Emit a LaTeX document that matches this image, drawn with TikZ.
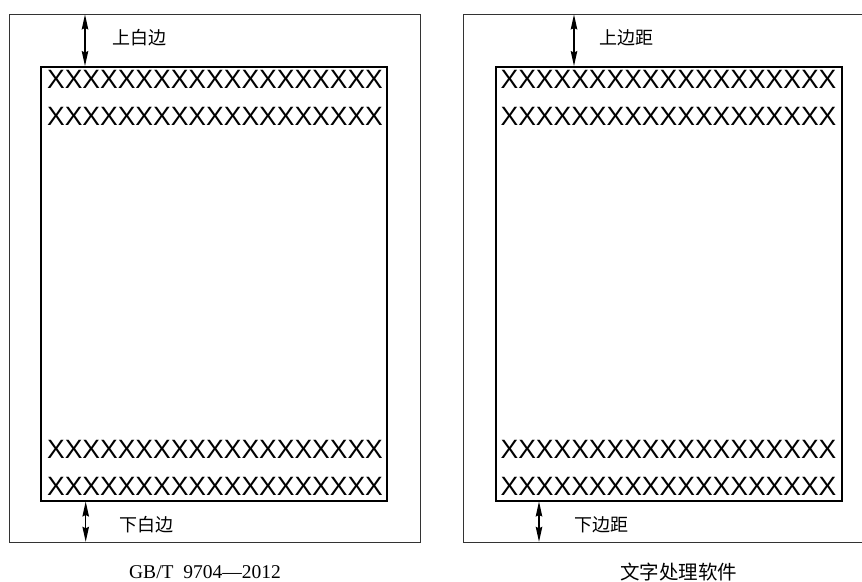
\documentclass[tikz,border=0pt]{standalone}
\usepackage{fontspec}
\setmainfont{Liberation Serif}
\newfontfamily\cjk{Noto Sans CJK SC}
\newfontfamily\xfont{Liberation Sans}
\usetikzlibrary{arrows.meta}
\tikzset{
  outerbox/.style={draw=black!80, line width=1pt},
  innerbox/.style={draw=black, line width=2pt},
  xrow/.style={inner sep=0pt, font=\xfont\fontsize{26.5}{27}\selectfont},
  lbl/.style={inner sep=0pt, font=\cjk\fontsize{18}{20}\selectfont},
  captext/.style={inner sep=0pt},
  dim/.style={line width=1.3pt, {Stealth[length=15pt,width=6.5pt,inset=1.5pt]}-{Stealth[length=15pt,width=6.5pt,inset=1.5pt]}}
}
\newcommand{\xxrow}{XXXXXXXXXXXXXXXXXXX}
\begin{document}
\begin{tikzpicture}[x=1pt,y=-1pt]
\useasboundingbox (0,0) rectangle (862,581);
% left panel
\draw[outerbox] (9.5,14) rectangle (420.7,542.3);
\draw[innerbox] (41,67) rectangle (387.3,500.5);
\node[xrow] (l1) at (215,79) {\xxrow};
\node[xrow] (l2) at (215,116.5) {\xxrow};
\node[xrow] (l3) at (215,449.7) {\xxrow};
\node[xrow] (l4) at (215,486.7) {\xxrow};
\coordinate (lta) at (85,14.5);
\coordinate (ltb) at (85,66);
\coordinate (lba) at (85.7,501.5);
\coordinate (lbb) at (85.7,541.8);
\draw[dim] (lta) -- (ltb);
\draw[dim] (lba) -- (lbb);
\node[lbl] (lt) at (139.5,38) {上白边};
\node[lbl] (lb) at (146.5,525) {下白边};
\node[captext] (lc) at (205,572) {\fontsize{19.5}{21}\selectfont GB/T\ \ 9704—2012};
% right panel
\begin{scope}
\clip (450,0) rectangle (862,581);
\draw[outerbox] (463.7,14) rectangle (880,542.3);
\end{scope}
\draw[innerbox] (496,67) rectangle (841.7,500.5);
\node[xrow] (r1) at (668.5,79) {\xxrow};
\node[xrow] (r2) at (668.5,116.5) {\xxrow};
\node[xrow] (r3) at (668.5,449.7) {\xxrow};
\node[xrow] (r4) at (668.5,486.7) {\xxrow};
\coordinate (rta) at (574,14.5);
\coordinate (rtb) at (574,66);
\coordinate (rba) at (539,501.5);
\coordinate (rbb) at (539,541.8);
\draw[dim] (rta) -- (rtb);
\draw[dim] (rba) -- (rbb);
\node[lbl] (rt) at (626.5,38) {上边距};
\node[lbl] (rb) at (601.5,525) {下边距};
\node[lbl,font=\cjk\fontsize{19.5}{21}\selectfont] (rc) at (678.5,572) {文字处理软件};
\end{tikzpicture}
\end{document}
